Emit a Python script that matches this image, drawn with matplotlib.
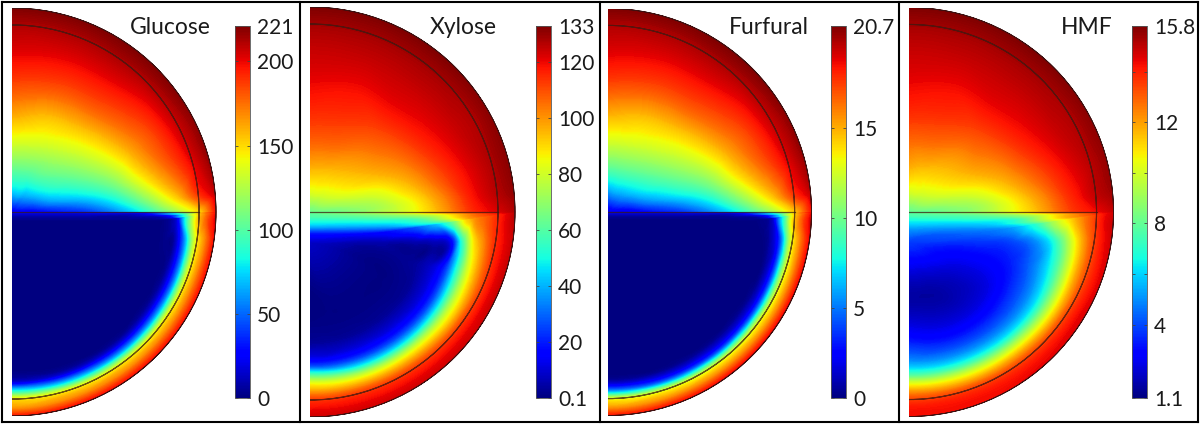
#!/usr/bin/env python3

import numpy as np
import matplotlib
matplotlib.use("Agg")
import matplotlib.pyplot as plt
import matplotlib.tri as mtri
from matplotlib.patches import Wedge
from matplotlib.lines import Line2D

plt.rcParams['font.family'] = ['Lato', 'DejaVu Sans']

names = ["Glucose", "Xylose", "Furfural", "HMF"]
ranges = [(0, 221), (0.1, 133), (0, 20.7), (1.1, 15.8)]
tick_values = [
    [0, 50, 100, 150, 200, 221],
    [0.1, 20, 40, 60, 80, 100, 120, 133],
    [0, 5, 10, 15, 20.7],
    [1.1, 4, 6, 8, 10, 12, 14, 15.8],
]
tick_labels = [
    ["0", "50", "100", "150", "200", "221"],
    ["0.1", "20", "40", "60", "80", "100", "120", "133"],
    ["0", "5", "10", "15", "20.7"],
    ["1.1", "4", "", "8", "", "12", "", "15.8"],
]

# upper half: one row per angle from the top, one column per radius
upper_angles = [0, 20, 40, 60, 75, 85, 90]
upper_radii = [0, .1, .2, .35, .5, .65, .8, .917, 1]

# lower half: rays from a point just under the flat side, out to the outline.
# rays end on the flat side at x = ray_line, then on the arc at ray_arc degrees
ray_line = [0, .4, .7, .9]
ray_arc = [0, 8, 20, 35, 50, 70, 90]
lower_s = [0, .3, .5, .6, .7, .75, .8, .85, .9, .95, 1]

# all field values are in percent of the colourbar range
glucose_upper = [
    [10, 33, 46, 62, 75, 85, 92, 96, 100],
    [10, 33, 45, 60, 71, 83, 91, 96, 100],
    [10, 29, 43, 56, 68, 81, 90, 96, 100],
    [10, 24, 37, 48, 60, 74, 85, 94, 99],
    [10, 18, 28, 37, 48, 65, 80, 91, 98],
    [10, 13, 18, 24, 34, 50, 68, 85, 94],
    [10, 11, 13, 16, 25, 38, 54, 68, 90],
]
glucose_lower = [
    [0, 0, 0, 0, 0, 1, 2, 3, 5, 8, 11],
    [0, 0, 0, 0, 0, 1, 2, 3, 5, 8, 12],
    [0, 0, 0, 0, 0, 1, 2, 3, 6, 11, 22],
    [0, 0, 0, 0, 0, 1, 3, 9, 22, 46, 64],
    [0, 0, 0, 0, 0, 1, 6, 38, 64, 78, 90],
    [0, 0, 0, 0, 0, 1, 3, 25, 60, 76, 91],
    [0, 0, 0, 0, 0, 0, 4, 24, 60, 77, 91],
    [0, 0, 0, 0, 0, 0, 5, 26, 62, 77, 91],
    [0, 0, 0, 0, 0, 0, 5, 27, 62, 77, 91],
    [0, 0, 0, 0, 0, 0, 6, 31, 64, 77, 91],
    [0, 0, 0, 0, 0, 1, 7, 36, 66, 75, 90],
]

xylose_upper = [
    [47, 62, 71, 81, 87, 91, 94, 97, 100],
    [47, 62, 70, 80, 86, 90, 94, 97, 100],
    [47, 60, 68, 76, 83, 90, 94, 97, 100],
    [47, 57, 64, 71, 78, 87, 93, 96, 99],
    [47, 53, 57, 62, 71, 82, 91, 96, 99],
    [47, 49, 52, 56, 64, 76, 89, 95, 98],
    [46, 47, 50, 56, 63, 74, 87, 92, 96],
]
xylose_lower = [
    [6, 14, 28, 34, 38, 40, 42, 44, 45, 46, 47],
    [6, 14, 27, 33, 38, 41, 44, 47, 50, 55, 60],
    [6, 13, 26, 33, 40, 43, 48, 54, 60, 68, 80],
    [6, 12, 24, 35, 46, 55, 66, 74, 80, 84, 90],
    [6, 11, 20, 30, 50, 66, 75, 80, 85, 90, 95],
    [6, 4, 4, 5, 13, 42, 65, 76, 85, 90, 94],
    [6, 1, 2, 5, 18, 38, 58, 72, 83, 90, 94],
    [6, 1, 1, 4, 17, 35, 56, 70, 83, 90, 93],
    [6, 1, 1, 4, 17, 34, 57, 72, 84, 90, 93],
    [6, 1, 1, 4, 17, 35, 58, 73, 85, 90, 93],
    [6, 0, 1, 4, 18, 42, 62, 74, 85, 90, 93],
]

furfural_upper = [
    [8, 28, 44, 61, 74, 85, 92, 96, 100],
    [8, 29, 44, 60, 71, 83, 91, 96, 100],
    [8, 27, 41, 56, 68, 81, 90, 96, 100],
    [8, 22, 35, 48, 60, 74, 85, 94, 99],
    [8, 16, 26, 37, 48, 65, 80, 91, 98],
    [8, 11, 17, 24, 34, 50, 68, 85, 94],
    [8, 9, 12, 16, 25, 38, 54, 70, 90],
]
furfural_lower = [
    [0, 0, 0, 0, 0, 0, 1, 2, 4, 7, 10],
    [0, 0, 0, 0, 0, 0, 1, 2, 4, 7, 11],
    [0, 0, 0, 0, 0, 0, 1, 2, 5, 10, 22],
    [0, 0, 0, 0, 0, 1, 2, 7, 20, 45, 64],
    [0, 0, 0, 0, 0, 1, 4, 32, 62, 78, 91],
    [0, 0, 0, 0, 0, 0, 3, 18, 58, 77, 92],
    [0, 0, 0, 0, 0, 0, 2, 17, 56, 76, 92],
    [0, 0, 0, 0, 0, 0, 3, 18, 58, 76, 92],
    [0, 0, 0, 0, 0, 0, 3, 18, 58, 76, 92],
    [0, 0, 0, 0, 0, 0, 3, 20, 60, 76, 91],
    [0, 0, 0, 0, 0, 0, 4, 24, 62, 75, 90],
]

hmf_upper = [
    [46, 61, 71, 80, 87, 91, 94, 97, 100],
    [46, 61, 69, 79, 86, 90, 94, 97, 100],
    [46, 59, 67, 75, 83, 90, 94, 97, 100],
    [46, 56, 63, 71, 78, 87, 93, 96, 99],
    [46, 52, 56, 62, 71, 81, 90, 95, 98],
    [46, 48, 51, 55, 64, 75, 87, 94, 97],
    [45, 46, 49, 54, 63, 73, 85, 90, 94],
]
hmf_lower = [
    [18, 24, 29, 33, 36, 38, 40, 42, 44, 45, 46],
    [18, 22, 28, 32, 36, 39, 42, 44, 47, 51, 57],
    [18, 22, 28, 33, 38, 41, 46, 52, 58, 66, 78],
    [18, 22, 28, 36, 50, 58, 66, 72, 76, 80, 88],
    [18, 22, 28, 38, 55, 63, 70, 77, 83, 89, 93],
    [18, 17, 19, 24, 36, 47, 60, 72, 82, 89, 93],
    [18, 12, 14, 20, 32, 42, 56, 70, 81, 88, 92],
    [18, 8, 10, 17, 28, 38, 54, 69, 82, 89, 92],
    [18, 5, 8, 15, 27, 38, 56, 71, 83, 89, 91],
    [18, 3, 8, 15, 28, 40, 58, 72, 84, 89, 90],
    [18, 3, 10, 18, 30, 42, 60, 74, 84, 89, 90],
]

uppers = [glucose_upper, xylose_upper, furfural_upper, hmf_upper]
lowers = [glucose_lower, xylose_lower, furfural_lower, hmf_lower]

# pixel layout of the 1200x425 figure
W, H = 1200, 425
centers = [12, 310, 608, 909]
radii = [204, 205, 203.5, 204.5]
cbar_left = [235, 536, 831, 1132]
title_x = [170, 463, 769, 1087]
frame_x = [1.5, 300, 600, 898.5, 1197.5]
CY = 212
RING = 0.917
POLE_Y = -0.15


def refine(t_knots, s_knots, table):
    # smooth on the (ray, ring) grid, where the table is a plain rectangle
    T, S = np.meshgrid(t_knots, s_knots, indexing="ij")
    tri = mtri.Triangulation(T.ravel(), S.ravel())
    z = np.array(table, float).ravel()
    interp = mtri.CubicTriInterpolator(tri, z, kind="geom")
    return mtri.UniformTriRefiner(tri).refine_field(z, triinterpolator=interp, subdiv=3)


def upper_mesh(table):
    fine, z = refine(np.radians(upper_angles), upper_radii, table)
    r = fine.y * 1.004
    return mtri.Triangulation(r * np.sin(fine.x), r * np.cos(fine.x), fine.triangles), z


def lower_mesh(table):
    # t runs 0..1 along the flat side, then on round the arc in radians
    t_knots = list(ray_line) + [1 + np.radians(a) for a in ray_arc]
    fine, z = refine(t_knots, lower_s, table)
    t, s = fine.x, fine.y
    phi = np.clip(t - 1, 0, None)
    end_x = np.where(t < 1, t, 1.004 * np.cos(phi))
    end_y = np.where(t < 1, 0.0, -1.004 * np.sin(phi))
    x = end_x * s
    y = POLE_Y + (end_y - POLE_Y) * s
    return mtri.Triangulation(x, y, fine.triangles), z


def draw_panel(fig, i):
    vmin, vmax = ranges[i]
    R = radii[i]
    ax = fig.add_axes([centers[i] / W, (H - CY - R) / H, (R + 1) / W, 2 * R / H])
    ax.set_xlim(0, (R + 1) / R)
    ax.set_ylim(-1, 1)
    ax.axis("off")

    norm = plt.Normalize(vmin, vmax)
    levels = np.linspace(vmin, vmax, 241)
    outline = Wedge((0, 0), 1, -90, 90, transform=ax.transData, fc="none", ec="none")
    ax.add_patch(outline)
    for tri, z in (upper_mesh(uppers[i]), lower_mesh(lowers[i])):
        cs = ax.tricontourf(tri, vmin + (vmax - vmin) * z / 100, levels=levels,
                            cmap="jet", norm=norm, extend="both")
        cs.set_clip_path(outline)

    # thin lines of the geometry
    ax.add_patch(Wedge((0, 0), RING, -90, 90, width=0, fc="none", ec="#3a1a12",
                       lw=0.8, alpha=0.75))
    ax.add_line(Line2D([0, RING], [0, 0], color="#3a1a12", lw=0.9, alpha=0.75))
    ax.add_patch(Wedge((0, 0), 1, -90, 90, width=0, fc="none", ec="#401010", lw=0.6))

    fig.text(title_x[i] / W, (H - 28) / H, names[i], fontsize=16.5,
             color="#1a1a1a", ha="center", va="center")

    cax = fig.add_axes([cbar_left[i] / W, (H - 398) / H, 15 / W, 372 / H])
    sm = plt.cm.ScalarMappable(norm=norm, cmap="jet")
    cb = fig.colorbar(sm, cax=cax)
    cb.set_ticks(tick_values[i], labels=tick_labels[i])
    cb.outline.set_linewidth(0.6)
    cb.outline.set_edgecolor("#555555")
    cax.tick_params(axis="y", direction="in", length=2.5, width=0.6, left=True,
                    right=True, pad=5, labelsize=15, labelcolor="#1a1a1a",
                    color="#444444")


def main():
    fig = plt.figure(figsize=(W / 100, H / 100), dpi=100)
    for i in range(len(names)):
        draw_panel(fig, i)

    # black frames round the four panels
    for x in frame_x:
        fig.add_artist(Line2D([x / W, x / W], [(H - 421.5) / H, (H - 1.5) / H],
                              color="black", lw=1.5))
    for y in (1.5, 421.5):
        fig.add_artist(Line2D([frame_x[0] / W, frame_x[-1] / W], [(H - y) / H] * 2,
                              color="black", lw=1.5))

    fig.savefig("out.png", dpi=100)


if __name__ == "__main__":
    main()
